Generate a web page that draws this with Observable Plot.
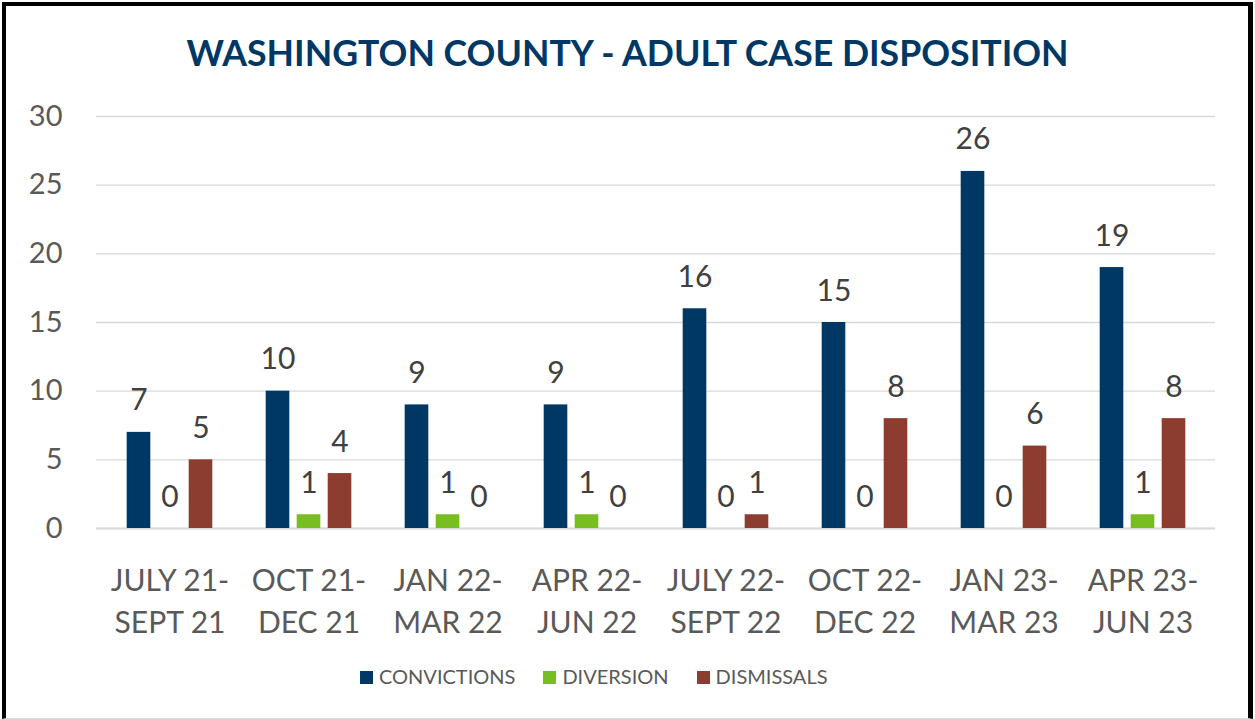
<!DOCTYPE html>
<html>
<head>
<meta charset="utf-8">
<script src="https://cdn.jsdelivr.net/npm/d3@7"></script>
<script src="https://cdn.jsdelivr.net/npm/@observablehq/plot@0.6"></script>
<style>
  html, body { margin: 0; padding: 0; background: #fff; }
  body { width: 1255px; height: 719px; position: relative; overflow: hidden; font-family: Lato, "Open Sans", sans-serif; }
  #frame { position: absolute; left: 2px; top: 2px; width: 1251px; height: 717px; box-sizing: border-box;
           border-left: 4px solid #000; border-top: 4px solid #000; border-right: 5px solid #000; border-bottom: 1px solid #d9d9d9; }
  #title { position: absolute; left: 0; top: 35px; width: 1255px; text-align: center; font-size: 35.7px; line-height: 36px;
           font-weight: 700; color: #003865; white-space: nowrap; }
  #chart { position: absolute; left: 0; top: 0; }
  #legend { position: absolute; left: 360px; top: 666px; display: flex; align-items: center; font-size: 20px; line-height: 20px; color: #595959; }
  .item { display: flex; align-items: center; margin-right: 28px; }
  .sw { width: 13px; height: 13px; margin-right: 6px; margin-top: 3px; }
</style>
</head>
<body>
<div id="frame"></div>
<div id="title">WASHINGTON COUNTY - ADULT CASE DISPOSITION</div>
<div id="chart"></div>
<div id="legend"></div>
<script>
const categories = ["JULY 21-\nSEPT 21", "OCT 21-\nDEC 21", "JAN 22-\nMAR 22", "APR 22-\nJUN 22",
                    "JULY 22-\nSEPT 22", "OCT 22-\nDEC 22", "JAN 23-\nMAR 23", "APR 23-\nJUN 23"];
const seriesNames = ["CONVICTIONS", "DIVERSION", "DISMISSALS"];
const convictions = [7, 10, 9, 9, 16, 15, 26, 19];
const diversion   = [0, 1, 1, 1, 0, 0, 0, 1];
const dismissals  = [5, 4, 0, 0, 1, 8, 6, 8];
const yTicks = [0, 5, 10, 15, 20, 25, 30];
const colors = ["#003865", "#78BE21", "#8C3D2F"];

const seriesValues = [convictions, diversion, dismissals];
const data = [];
seriesNames.forEach((s, si) => categories.forEach((c, ci) => data.push({category: c, series: s, value: seriesValues[si][ci]})));

const barW = 24.5, stepW = 31, bandW = 1119 / categories.length;
const inset = (bandW - barW) / 2;
const offsets = [-stepW, 0, stepW];

const marks = [
  Plot.gridY({ticks: yTicks, stroke: "#d9d9d9", strokeOpacity: 1, strokeWidth: 1.3}),
  Plot.ruleY([0], {stroke: "#d9d9d9", strokeWidth: 2}),
  Plot.axisY({ticks: yTicks, tickSize: 0, tickPadding: 34, fontSize: 29, color: "#595959", label: null}),
  Plot.axisX({tickSize: 0, tickPadding: 33, fontSize: 30, lineHeight: 1.4, color: "#595959", label: null})
];
seriesNames.forEach((s, si) => {
  const subset = data.filter(d => d.series === s);
  marks.push(Plot.barY(subset, {x: "category", y: "value", fill: colors[si], insetLeft: inset, insetRight: inset, dx: offsets[si]}));
  marks.push(Plot.text(subset, {x: "category", y: "value", text: d => String(d.value), dx: offsets[si], dy: -22,
    lineAnchor: "bottom", fontSize: 30, fill: "#404040"}));
});

const plot = Plot.plot({
  width: 1255,
  height: 719,
  marginLeft: 96,
  marginRight: 40,
  marginTop: 116,
  marginBottom: 191,
  style: {fontFamily: "Lato, 'Open Sans', sans-serif", background: "transparent", overflow: "visible"},
  x: {domain: categories, padding: 0, axis: null},
  y: {domain: [0, 30], axis: null},
  marks
});
document.getElementById("chart").appendChild(plot);

const legend = document.getElementById("legend");
seriesNames.forEach((s, si) => {
  const item = document.createElement("div");
  item.className = "item";
  const sw = document.createElement("div");
  sw.className = "sw";
  sw.style.background = colors[si];
  const label = document.createElement("span");
  label.textContent = s;
  item.appendChild(sw);
  item.appendChild(label);
  legend.appendChild(item);
});
</script>
</body>
</html>
